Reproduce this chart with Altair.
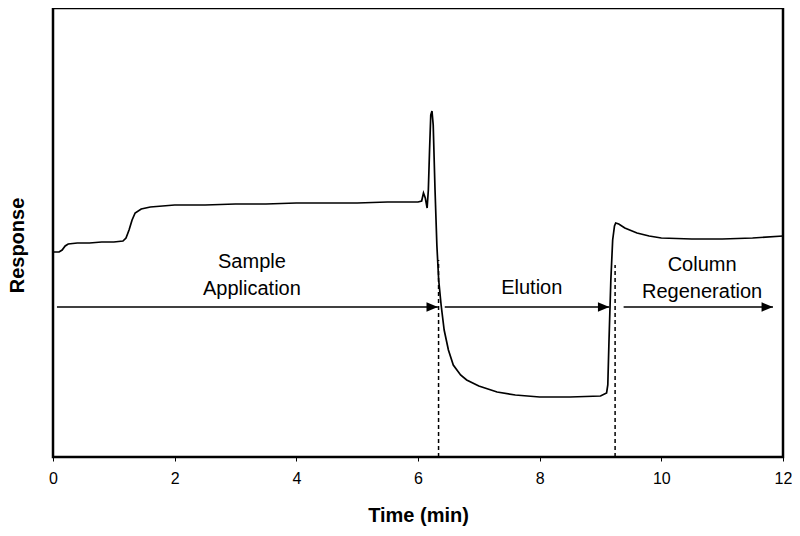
import altair as alt
import pandas as pd

# Trace (time in min, response in arbitrary units)
time = [0.0, 0.05, 0.1, 0.15, 0.2, 0.25, 0.4, 0.6, 0.8, 1.0, 1.15, 1.2, 1.25, 1.3, 1.35,
        1.45, 1.6, 1.8, 2.0, 2.5, 3.0, 3.5, 4.0, 4.5, 5.0, 5.5, 6.0, 6.06, 6.09, 6.12,
        6.15, 6.17, 6.19, 6.21, 6.23, 6.25, 6.28, 6.31, 6.34, 6.38, 6.43, 6.5, 6.58,
        6.7, 6.8, 7.0, 7.3, 7.6, 8.0, 8.5, 9.0, 9.1, 9.12, 9.14, 9.17, 9.2, 9.23, 9.25,
        9.3, 9.4, 9.6, 9.8, 10.0, 10.5, 11.0, 11.5, 12.0]
response = [205, 205, 205, 207, 211, 213, 214, 214, 215, 215, 216, 219, 227, 237, 244,
            248, 250, 251, 252, 252, 253, 253, 254, 254, 254, 255, 255, 256, 264, 259,
            249, 267, 307, 342, 346, 332, 267, 212, 177, 152, 127, 107, 92,
            82, 77, 71, 65, 62, 60, 60, 61, 64, 72, 117, 177, 217, 231, 234,
            233, 229, 224, 221, 219, 218, 218, 219, 221]

# Phase arrows
arrow_start = [0.065, 6.44, 9.38]
arrow_end = [6.327, 9.145, 11.835]
arrow_level = [150, 150, 150]

# Dashed phase boundaries
bound_t = [6.338, 9.24]
bound_top = [197, 192]

# Phase labels
label_text = [["Sample", "Application"], ["Elution"], ["Column", "Regeneration"]]
label_t = [3.27, 7.87, 10.67]
label_v = [189, 163, 186]

x_ticks = [0, 2, 4, 6, 8, 10, 12]

FONT = "Liberation Sans, Arial, sans-serif"

trace = pd.DataFrame({"t": time, "v": response})
arrows = pd.DataFrame({"t0": arrow_start, "t1": arrow_end, "v": arrow_level})
bounds = pd.DataFrame({"t": bound_t, "top": bound_top, "bottom": [0] * len(bound_t)})
labels = pd.DataFrame({"t": label_t, "v": label_v, "txt": label_text})

xscale = alt.Scale(domain=[0, 12], nice=False)
yscale = alt.Scale(domain=[0, 449], nice=False)

xaxis = alt.Axis(values=x_ticks, format="d", grid=False, domain=False, ticks=True,
                 tickSize=4, tickColor="black", labelFontSize=16, labelColor="black",
                 labelPadding=9, labelFont=FONT, labelFlush=False, title="Time (min)",
                 titleFont=FONT, titleFontSize=20, titleFontWeight="bold",
                 titleColor="black", titleY=64, titleBaseline="alphabetic")
yaxis = alt.Axis(labels=False, ticks=False, domain=False, grid=False, title="Response",
                 titleFont=FONT, titleFontSize=20, titleFontWeight="bold",
                 titleColor="black", titleX=-36, titleY=237, titleAngle=-90,
                 titleBaseline="middle")

line = alt.Chart(trace).mark_line(color="black", strokeWidth=1.7).encode(
    x=alt.X("t:Q", scale=xscale, axis=xaxis),
    y=alt.Y("v:Q", scale=yscale, axis=yaxis),
)

arrow_lines = alt.Chart(arrows).mark_rule(color="black", strokeWidth=1.5).encode(
    x=alt.X("t0:Q", scale=xscale), x2="t1:Q", y=alt.Y("v:Q", scale=yscale)
)

heads = alt.Chart(arrows).mark_point(
    shape="M0,0L-1,-0.42L-1,0.42Z", filled=True, color="black", opacity=1, size=520,
    strokeWidth=0
).encode(x=alt.X("t1:Q", scale=xscale), y=alt.Y("v:Q", scale=yscale))

dashes = alt.Chart(bounds).mark_rule(color="black", strokeWidth=1.5, strokeDash=[4, 3]).encode(
    x=alt.X("t:Q", scale=xscale), y=alt.Y("bottom:Q", scale=yscale), y2="top:Q"
)

texts = alt.Chart(labels).mark_text(
    font=FONT, fontSize=20, color="black", align="center", baseline="alphabetic",
    lineHeight=27
).encode(x=alt.X("t:Q", scale=xscale), y=alt.Y("v:Q", scale=yscale), text="txt")

chart = alt.layer(line, dashes, arrow_lines, heads, texts).properties(
    width=730, height=449,
    background="white",
    autosize=alt.AutoSizeParams(type="none"),
    padding={"left": 45, "top": 0, "right": 9, "bottom": 72},
).configure_view(stroke="black", strokeWidth=2.5)

chart.save("out.html", embed_options={"renderer": "svg", "actions": False})
